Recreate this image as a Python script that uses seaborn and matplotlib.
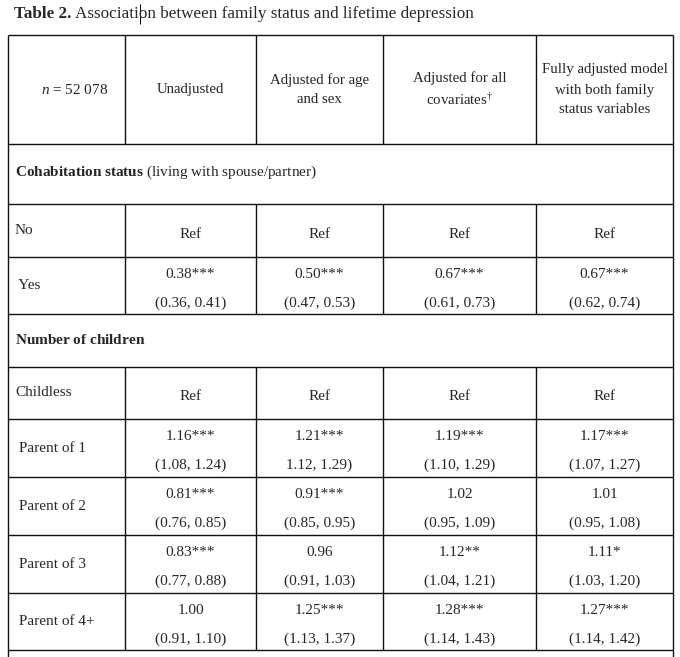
import matplotlib
matplotlib.use("Agg")
import matplotlib.pyplot as plt
import seaborn as sns

# table content
title_bold = "Table 2."
title_rest = "Association between family status and lifetime depression"
n_label = "$n$ = 52 078"
model_headers = ["Unadjusted",
                 "Adjusted for age\nand sex",
                 "Adjusted for all\ncovariates$^{\\dagger}$",
                 "Fully adjusted model\nwith both family\nstatus variables"]
section_cohab = "$\\mathbf{Cohabitation\\ status}$ (living with spouse/partner)"
section_children = "$\\mathbf{Number\\ of\\ children}$"

row_labels = ["No", " Yes", "Childless", " Parent of 1", " Parent of 2", " Parent of 3", " Parent of 4+"]
or_unadj = ["Ref", "0.38***", "Ref", "1.16***", "0.81***", "0.83***", "1.00"]
ci_unadj = ["", "(0.36, 0.41)", "", "(1.08, 1.24)", "(0.76, 0.85)", "(0.77, 0.88)", "(0.91, 1.10)"]
or_agesex = ["Ref", "0.50***", "Ref", "1.21***", "0.91***", "0.96", "1.25***"]
ci_agesex = ["", "(0.47, 0.53)", "", "1.12, 1.29)", "(0.85, 0.95)", "(0.91, 1.03)", "(1.13, 1.37)"]
or_allcov = ["Ref", "0.67***", "Ref", "1.19***", "1.02", "1.12**", "1.28***"]
ci_allcov = ["", "(0.61, 0.73)", "", "(1.10, 1.29)", "(0.95, 1.09)", "(1.04, 1.21)", "(1.14, 1.43)"]
or_full = ["Ref", "0.67***", "Ref", "1.17***", "1.01", "1.11*", "1.27***"]
ci_full = ["", "(0.62, 0.74)", "", "(1.07, 1.27)", "(0.95, 1.08)", "(1.03, 1.20)", "(1.14, 1.42)"]

sns.set_theme(style="white")
plt.rcParams['font.family'] = ['Liberation Serif', 'DejaVu Serif']
plt.rcParams['mathtext.fontset'] = 'custom'
plt.rcParams['mathtext.rm'] = 'Liberation Serif'
plt.rcParams['mathtext.it'] = 'Liberation Serif:italic'
plt.rcParams['mathtext.bf'] = 'Liberation Serif:bold'

# layout (pixel grid)
col_x = [8, 125, 256, 383, 536, 673]
hdr_top, hdr_bot = 35, 144
row_tops = {"sec1": 144, "No": 204, " Yes": 257, "sec2": 314, "Childless": 367,
            " Parent of 1": 419, " Parent of 2": 477, " Parent of 3": 535, " Parent of 4+": 593}
table_bottom = 650
H = 657

fig = plt.figure(figsize=(6.8, 6.57), dpi=100)
ax = fig.add_axes([0, 0, 1, 1])
ax.set_xlim(0, 680)
ax.set_ylim(H, 0)
ax.axis("off")

lc = "#111111"
lw = 1.0
fs = 11
tfs = 12.3

# title: bold label, then the rest placed right after it
tb = ax.text(14, 14, title_bold, fontsize=tfs, fontweight="bold", va="center", ha="left")
fig.canvas.draw()
bb = tb.get_window_extent().transformed(ax.transData.inverted())
tr = ax.text(bb.x1 + 4, 14, title_rest, fontsize=tfs, va="center", ha="left")
fig.canvas.draw()
# text cursor left in the caption after "Associati"
probe = ax.text(bb.x1 + 4, 14, "Associati", fontsize=tfs, va="center", ha="left")
fig.canvas.draw()
pb = probe.get_window_extent().transformed(ax.transData.inverted())
probe.remove()
ax.vlines(pb.x1 + 0.5, 4, 24, color="black", lw=0.7)

# horizontal lines
full_rows = [hdr_top, hdr_bot, row_tops["No"], row_tops["sec2"], row_tops["Childless"], table_bottom]
ax.hlines(full_rows, col_x[0], col_x[-1], color=lc, lw=lw)
inner = [row_tops[" Yes"], row_tops[" Parent of 1"], row_tops[" Parent of 2"],
         row_tops[" Parent of 3"], row_tops[" Parent of 4+"]]
ax.hlines(inner, col_x[0], col_x[-1], color=lc, lw=lw)

# vertical borders
ax.vlines([col_x[0], col_x[-1]], hdr_top, H, color=lc, lw=lw)
for seg in [(hdr_top, hdr_bot), (row_tops["No"], row_tops["sec2"]),
            (row_tops["Childless"], table_bottom)]:
    ax.vlines(col_x[1:-1], seg[0], seg[1], color=lc, lw=lw)

# header
ax.text(75, (hdr_top + hdr_bot) / 2, n_label, fontsize=fs, ha="center", va="center")
for i, h in enumerate(model_headers):
    cx = (col_x[i + 1] + col_x[i + 2]) / 2
    ax.text(cx, (hdr_top + hdr_bot) / 2, h, fontsize=10.7, ha="center", va="center",
            linespacing=1.6)

# section rows
ax.text(15, row_tops["sec1"] + 28, section_cohab, fontsize=fs, ha="left", va="center")
ax.text(15, row_tops["sec2"] + 26, section_children, fontsize=fs, ha="left", va="center")

# body rows
models = [(or_unadj, ci_unadj), (or_agesex, ci_agesex), (or_allcov, ci_allcov), (or_full, ci_full)]
row_heights = {"No": 53, " Yes": 57, "Childless": 52, " Parent of 1": 58, " Parent of 2": 58,
               " Parent of 3": 58, " Parent of 4+": 57}
for r, lab in enumerate(row_labels):
    top = row_tops[lab]
    hgt = row_heights[lab]
    ax.text(15, top + hgt / 2, lab, fontsize=fs, ha="left", va="center")
    for m, (ors, cis) in enumerate(models):
        cx = (col_x[m + 1] + col_x[m + 2]) / 2
        if cis[r]:
            ax.text(cx, top + 18, ors[r], fontsize=fs, ha="center", va="center")
            ax.text(cx, top + 46, cis[r], fontsize=fs, ha="center", va="center")
        else:
            ax.text(cx, top + hgt / 2 + 4, ors[r], fontsize=fs, ha="center", va="center")

fig.savefig("out.png", dpi=100, facecolor="white")
